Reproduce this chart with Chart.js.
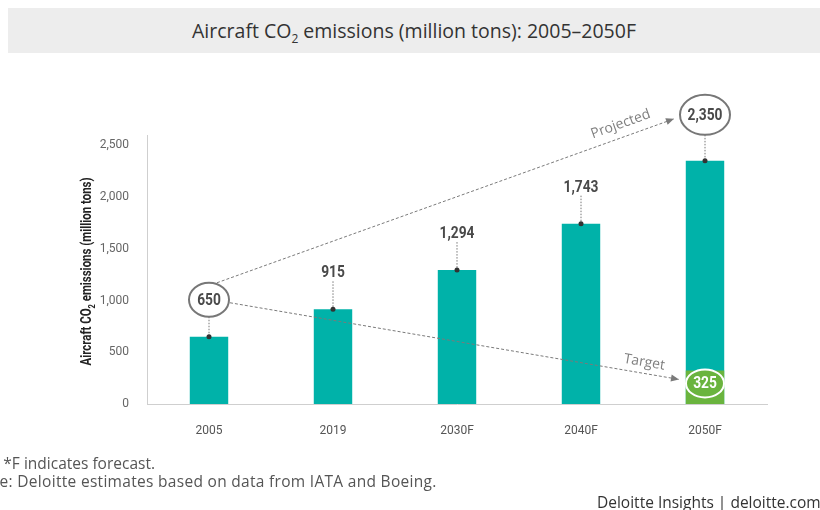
<!DOCTYPE html>
<html>
<head>
<meta charset="utf-8">
<title>Aircraft CO2 emissions</title>
<style>
html, body {
  margin:0px;
  width:820px;
  height:510px;
  overflow:hidden;
  background:#fff;
  font-family:"Open Sans", sans-serif;
}
#title {
  position:absolute; left:8px; top:8px; width:812px; height:45px;
  background:#ededed; color:#333; font-size:19.5px; line-height:45px; text-align:center;
}
#title sub { font-size:12px; vertical-align:-5px; line-height:0; }
.foot { position:absolute; font-size:15.5px; line-height:18px; color:#555; white-space:nowrap; }
#wrap { position:absolute; left:0; top:0; width:820px; height:510px; }
</style>
<script src="https://cdn.jsdelivr.net/npm/chart.js@4"></script>
</head>
<body>
<div id="title">Aircraft CO<sub>2</sub> emissions (million tons): 2005–2050F</div>
<div id="wrap"><canvas id="myChart" width="820" height="510"></canvas></div>
<div class="foot" id="note" style="top:454px"><span id="notePre">Note: </span>*F indicates forecast.</div>
<div class="foot" id="source" style="top:472px; letter-spacing:0.3px"><span id="sourcePre">Sourc</span>e: Deloitte estimates based on data from IATA and Boeing.</div>
<div class="foot" style="top:493px; left:597px; color:#333">Deloitte Insights | deloitte.com</div>
<script>
const years = ['2005', '2019', '2030F', '2040F', '2050F'];
const emissions = [650, 915, 1294, 1743, 2350];   // projected, million tons
const target = [null, null, null, null, 325];     // 2050 target
const yTicks = [0, 500, 1000, 1500, 2000, 2500];

const TEAL = '#00b2a9';
const GREEN = '#6ab43e';
const COND = 'Roboto, sans-serif';

// push the clipped footnote prefixes off the left edge
document.getElementById('note').style.left = (3 - document.getElementById('notePre').offsetWidth) + 'px';
document.getElementById('source').style.left = (0 - document.getElementById('sourcePre').offsetWidth) + 'px';

function fmt(v) { return v.toLocaleString('en-US'); }

function dashed(ctx, x1, y1, x2, y2, arrow) {
  ctx.save();
  ctx.strokeStyle = '#7a7a7a';
  ctx.lineWidth = 1;
  ctx.setLineDash([3, 2]);
  ctx.beginPath(); ctx.moveTo(x1, y1); ctx.lineTo(x2, y2); ctx.stroke();
  if (arrow) {
    const a = Math.atan2(y2 - y1, x2 - x1);
    ctx.setLineDash([]);
    ctx.fillStyle = '#7a7a7a';
    ctx.beginPath();
    ctx.moveTo(x2, y2);
    ctx.lineTo(x2 - 8 * Math.cos(a) + 3.5 * Math.sin(a), y2 - 8 * Math.sin(a) - 3.5 * Math.cos(a));
    ctx.lineTo(x2 - 8 * Math.cos(a) - 3.5 * Math.sin(a), y2 - 8 * Math.sin(a) + 3.5 * Math.cos(a));
    ctx.closePath(); ctx.fill();
  }
  ctx.restore();
}

function ellipse(ctx, x, y, rx, ry, fill, stroke) {
  ctx.save();
  ctx.beginPath(); ctx.ellipse(x, y, rx, ry, 0, 0, Math.PI * 2);
  if (fill) { ctx.fillStyle = fill; ctx.fill(); }
  ctx.lineWidth = 2; ctx.strokeStyle = stroke; ctx.stroke();
  ctx.restore();
}

function rotText(ctx, txt, x, y, ang) {
  ctx.save();
  ctx.translate(x, y); ctx.rotate(ang);
  ctx.font = '14px "Open Sans"'; ctx.fillStyle = '#808080';
  ctx.textAlign = 'center'; ctx.textBaseline = 'middle';
  ctx.fillText(txt, 0, 0);
  ctx.restore();
}

// narrow bold label, squeezed horizontally to look condensed
function valueText(ctx, txt, x, y, color) {
  ctx.save();
  ctx.translate(x, y); ctx.scale(0.86, 1);
  ctx.font = 'bold 16px ' + COND; ctx.fillStyle = color;
  ctx.textAlign = 'center'; ctx.textBaseline = 'middle';
  ctx.fillText(txt, 0, 0);
  ctx.restore();
}

const annotations = {
  id: 'annotations',
  afterDatasetsDraw(chart) {
    const ctx = chart.ctx;
    const bars = chart.getDatasetMeta(1).data;
    const tbar = chart.getDatasetMeta(0).data[4];
    const ys = chart.scales.y;
    ctx.save();
    const centers = [];
    bars.forEach((b, i) => {
      const last = i === emissions.length - 1;
      const circled = i === 0 || last;
      const off = last ? 46 : 37;
      const cx = b.x, cy = b.y - off;
      centers.push({x: cx, y: cy});
      const ry = last ? 20 : 17;
      const rx = last ? 25 : 20;
      // dotted connector
      ctx.save();
      ctx.strokeStyle = '#777'; ctx.lineWidth = 1; ctx.setLineDash([1.5, 1.5]);
      ctx.beginPath(); ctx.moveTo(cx, circled ? cy + ry : cy + 9); ctx.lineTo(cx, b.y); ctx.stroke();
      ctx.restore();
      ctx.fillStyle = '#333';
      ctx.beginPath(); ctx.arc(cx, b.y, 2.5, 0, Math.PI * 2); ctx.fill();
      if (circled) ellipse(ctx, cx, cy, rx, ry, '#fff', '#777');
      valueText(ctx, fmt(emissions[i]), cx, cy + 1, '#4a4a4a');
    });
    // target circle on the green bar
    const tx = tbar.x, ty = ys.getPixelForValue(target[4]) + 13;
    ellipse(ctx, tx, ty, 19, 14, GREEN, '#fff');
    valueText(ctx, fmt(target[4]), tx, ty + 1, '#fff');

    const c0 = centers[0], c4 = centers[4];
    // projected line
    const p1 = {x: c0.x + 8, y: c0.y - 17}, p2 = {x: c4.x - 31, y: c4.y + 4};
    dashed(ctx, p1.x, p1.y, p2.x, p2.y, true);
    const pa = Math.atan2(p2.y - p1.y, p2.x - p1.x);
    rotText(ctx, 'Projected', p2.x - 52 * Math.cos(pa) + 13 * Math.sin(pa), p2.y - 52 * Math.sin(pa) - 13 * Math.cos(pa), pa);
    // target line
    const q1 = {x: c0.x + 21, y: c0.y + 3}, q2 = {x: tx - 26, y: ty - 4};
    dashed(ctx, q1.x, q1.y, q2.x, q2.y, true);
    const qa = Math.atan2(q2.y - q1.y, q2.x - q1.x);
    rotText(ctx, 'Target', q2.x - 37 * Math.cos(qa) + 11 * Math.sin(qa), q2.y - 37 * Math.sin(qa) - 11 * Math.cos(qa), qa);

    // y axis title with subscript, fitted to the reference length
    const yc = (chart.chartArea.top + chart.chartArea.bottom) / 2 + 2;
    ctx.translate(87, yc); ctx.rotate(-Math.PI / 2);
    ctx.fillStyle = '#222'; ctx.textAlign = 'left'; ctx.textBaseline = 'middle';
    const bf = 'bold 14.5px ' + COND, sf = 'bold 9.5px ' + COND;
    const a = 'Aircraft CO', s = '2', c = ' emissions (million tons)';
    ctx.font = bf; const wa = ctx.measureText(a).width, wc = ctx.measureText(c).width;
    ctx.font = sf; const ws = ctx.measureText(s).width;
    const total = wa + ws + wc;
    ctx.scale(188 / total, 1);
    let x = -total / 2;
    ctx.font = bf; ctx.fillText(a, x, 0); x += wa;
    ctx.font = sf; ctx.fillText(s, x, 5.5); x += ws;
    ctx.font = bf; ctx.fillText(c, x, 0);
    ctx.restore();
  }
};

const myChart = new Chart(document.getElementById('myChart'), {
  type: 'bar',
  data: {
    labels: years,
    datasets: [
      { label: 'Target', data: target, backgroundColor: GREEN, order: 0, grouped: false },
      { label: 'Emissions', data: emissions, backgroundColor: TEAL, order: 1, grouped: false }
    ]
  },
  options: {
    responsive: false,
    animation: false,
    barPercentage: 0.31,
    categoryPercentage: 1,
    layout: { padding: { top: 135, right: 53, left: 0, bottom: 0 } },
    plugins: { legend: { display: false }, tooltip: { enabled: false } },
    scales: {
      x: {
        grid: { display: false },
        border: { color: '#cfcfcf' },
        ticks: { color: '#555', font: { family: COND, size: 12 }, padding: 12 },
        afterFit: s => { s.height = 106; }
      },
      y: {
        min: 0, max: 2600,
        grid: { display: false },
        border: { color: '#cfcfcf' },
        ticks: { color: '#666', font: { family: COND, size: 12 }, padding: 10, callback: v => fmt(v) },
        afterBuildTicks: s => { s.ticks = yTicks.map(v => ({ value: v })); },
        afterFit: s => { s.width = 147; }
      }
    }
  },
  plugins: [annotations]
});
</script>
</body>
</html>
